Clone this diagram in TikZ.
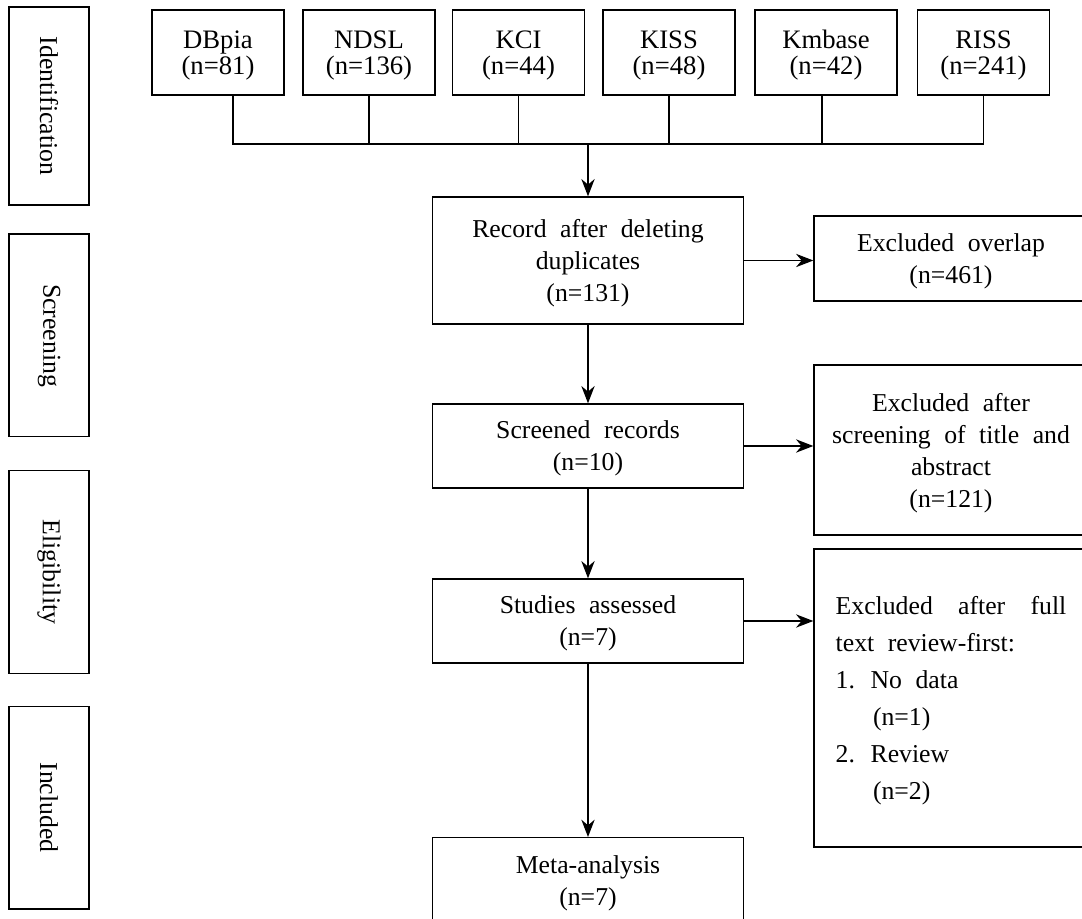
\documentclass[tikz,border=0pt]{standalone}
\usepackage{fontspec}
\setmainfont[WordSpace=2.1]{Liberation Serif}
\usetikzlibrary{arrows.meta}

\begin{document}
\begin{tikzpicture}[x=0.75pt,y=-0.75pt,line width=1pt,
    nodes={draw,rectangle,align=center,inner sep=0pt,font=\fontsize{19.3}{24}\selectfont},
    lower/.style={text depth=#1},
    phase/.style={rotate=-90,minimum width=152pt,minimum height=60pt},
    src/.style={minimum width=99pt,minimum height=63.75pt,lower=-12pt,font=\fontsize{20}{19.5}\selectfont},
    mainbox/.style={minimum width=233.25pt,minimum height=63pt,lower=-5.5pt},
    sidebox/.style={minimum width=205.5pt,minimum height=63.75pt,lower=-5.5pt},
    arr/.style={->,>={Stealth[length=13pt,width=10pt]}}]

      \useasboundingbox (0,0) rectangle (1082,919);

      \node[phase,minimum width=148.5pt] (ident) at (49,106) {Identification};
      \node[phase] (screen) at (49,335.5) {Screening};
      \node[phase] (elig) at (49,572) {Eligibility};
      \node[phase] (incl) at (49,807.5) {Included};

      \node[src] (dbpia) at (218,52.5) {DBpia\\(n=81)};
      \node[src] (ndsl) at (369,52.5) {NDSL\\(n=136)};
      \node[src] (kci) at (518.5,52.5) {KCI\\(n=44)};
      \node[src] (kiss) at (669,52.5) {KISS\\(n=48)};
      \node[src,minimum width=106.5pt] (kmbase) at (826,52.5) {Kmbase\\(n=42)};
      \node[src] (riss) at (983.5,52.5) {RISS\\(n=241)};
      \coordinate (join) at (588,144);

      \node[mainbox,minimum height=95.25pt] (record) at (588,260.5) {Record after deleting\\duplicates\\(n=131)};
      \node[mainbox] (screened) at (588,446) {Screened records\\(n=10)};
      \node[mainbox] (studies) at (588,621) {Studies assessed\\(n=7)};
      \node[mainbox,anchor=north,minimum height=64.5pt] (meta) at (588,837) {Meta-analysis\\(n=7)};

      \node[sidebox] (overlap) at (951,258.5) {Excluded overlap\\(n=461)};
      \node[sidebox,minimum height=127.5pt] (exscreen) at (951,450) {Excluded after\\screening of title and\\abstract\\(n=121)};
      \node[sidebox,minimum height=223.5pt,align=left,font=\fontsize{19.3}{27.75}\selectfont] (exfull) at (951,698)
        {\makebox[173pt][s]{Excluded after full}\\text review-first:\\1. No data\\\hspace*{28pt}(n=1)\\2. Review\\\hspace*{28pt}(n=2)};

      % databases onto the bus
      \draw ([xshift=11.25pt]dbpia.south) |- (riss.south |- join) -- (riss.south);
      \draw (ndsl.south) -- (ndsl.south |- join);
      \draw (kci.south) -- (kci.south |- join);
      \draw (kiss.south) -- (kiss.south |- join);
      \draw ([xshift=-3pt]kmbase.south) -- ([xshift=-3pt]kmbase.south |- join);
      \draw[arr] (join) -- (record);

      \draw[arr] (record) -- (screened);
      \draw[arr] (screened) -- (studies);
      \draw[arr] (studies) -- (meta);

      \draw[arr] (record.east) -- (record.east -| overlap.west);
      \draw[arr] (screened.east) -- (screened.east -| exscreen.west);
      \draw[arr] (studies.east) -- (studies.east -| exfull.west);

    \end{tikzpicture}
\end{document}
